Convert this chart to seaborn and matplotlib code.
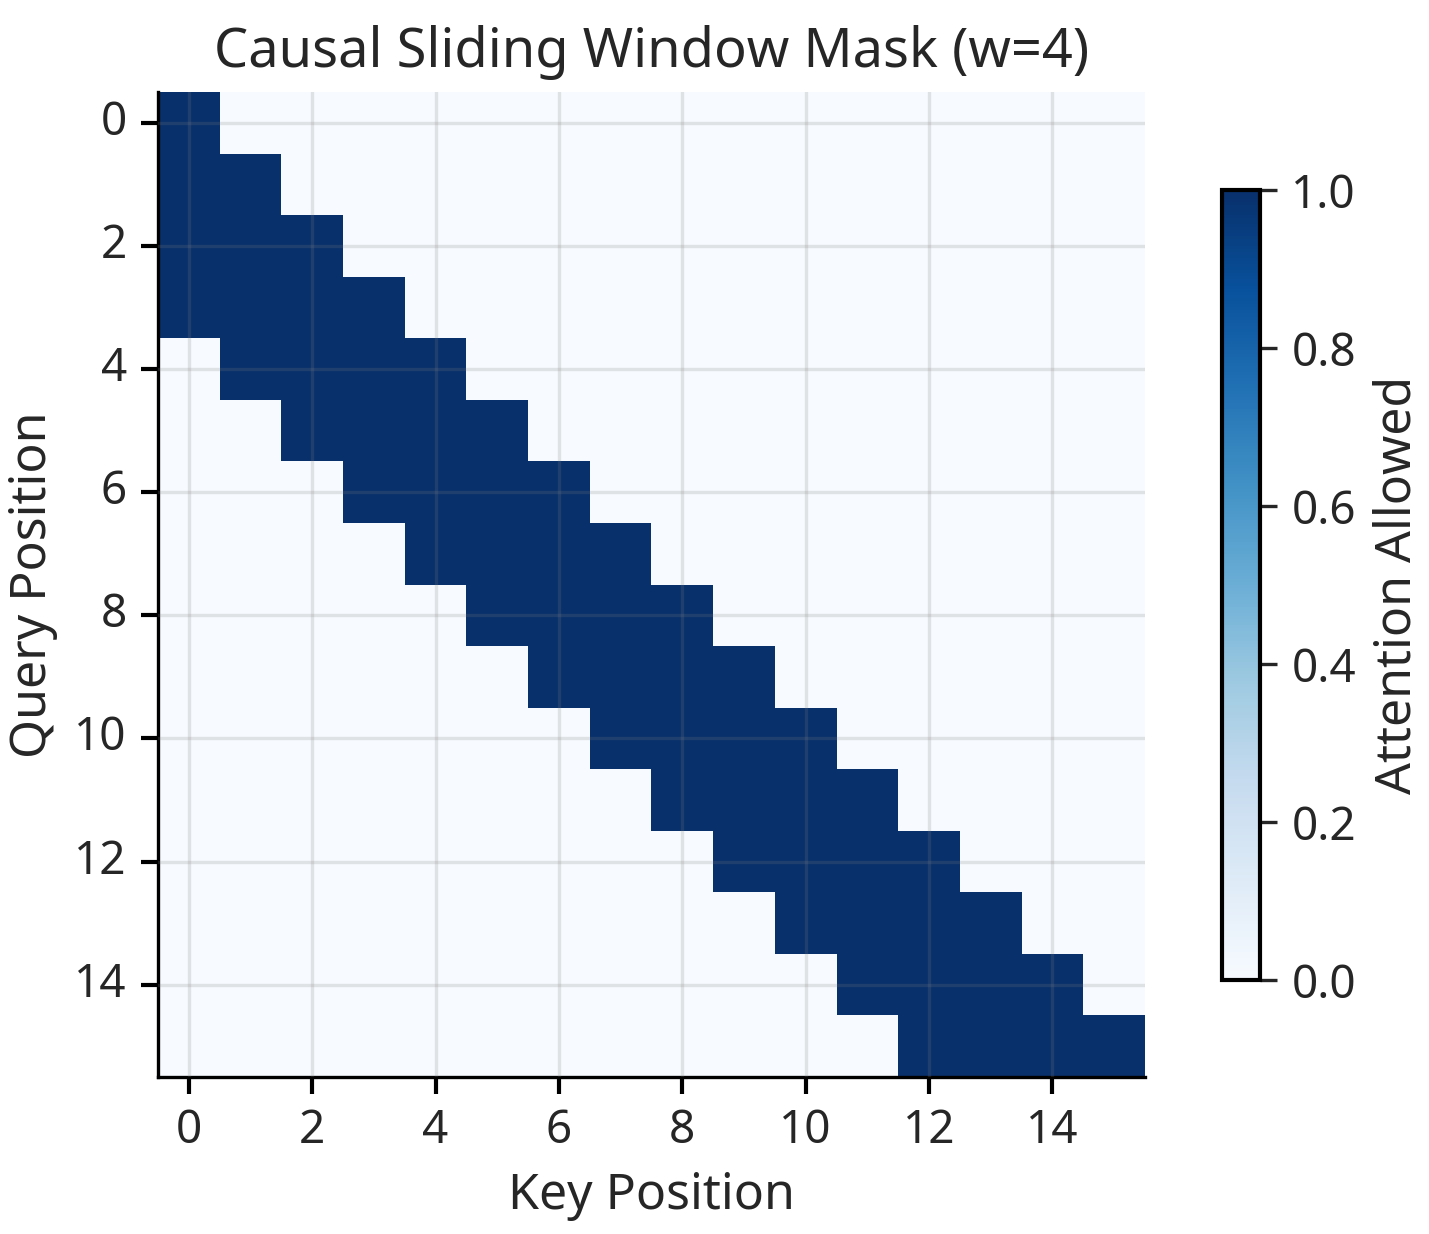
import numpy as np
import pandas as pd
import seaborn as sns
import matplotlib
matplotlib.use("Agg")
import matplotlib.pyplot as plt

sns.set_style("white")
plt.rcParams['font.family'] = ['Noto Sans', 'DejaVu Sans']

positions = list(range(16))
window_start = [0, 0, 0, 0, 1, 2, 3, 4, 5, 6, 7, 8, 9, 10, 11, 12]
window_end = [0, 1, 2, 3, 4, 5, 6, 7, 8, 9, 10, 11, 12, 13, 14, 15]
tick_labels = [0, 2, 4, 6, 8, 10, 12, 14]

mask = np.zeros((16, 16))
for q in positions:
    mask[q, window_start[q]:window_end[q] + 1] = 1.0
df = pd.DataFrame(mask, index=positions, columns=positions)

fig = plt.figure(figsize=(1429/300, 1234/300), dpi=300)
ax = fig.add_axes([158/1429, 1 - 1077/1234, (1145-158)/1429, (1077-92)/1234])
cax = fig.add_axes([1222/1429, 1 - 980/1234, 38/1429, 790/1234])
sns.heatmap(df, cmap="Blues", vmin=0, vmax=1, ax=ax, cbar_ax=cax,
            cbar_kws={'label': 'Attention Allowed'})
ticks = [t + 0.5 for t in tick_labels]
ax.set_xticks(ticks)
ax.set_xticklabels(tick_labels, rotation=0, fontsize=11)
ax.set_yticks(ticks)
ax.set_yticklabels(tick_labels, rotation=0, fontsize=11)
ax.tick_params(length=4, width=1, color='black', bottom=True, left=True)
ax.grid(True, color='gray', alpha=0.2, linewidth=0.8)
ax.set_axisbelow(False)
for s in ['left', 'bottom']:
    ax.spines[s].set_visible(True)
    ax.spines[s].set_color('black')
ax.set_xlabel('Key Position', fontsize=12)
ax.set_ylabel('Query Position', fontsize=12)
ax.set_title('Causal Sliding Window Mask (w=4)', fontsize=13, fontweight='bold')
cb = ax.collections[0].colorbar
cb.outline.set_visible(True)
cb.outline.set_edgecolor('black')
cb.outline.set_linewidth(1)
cb.set_ticks([0, 0.2, 0.4, 0.6, 0.8, 1.0])
cb.ax.tick_params(labelsize=11, length=4)
cb.set_label('Attention Allowed', fontsize=12)
fig.savefig('out.png', dpi=300)
